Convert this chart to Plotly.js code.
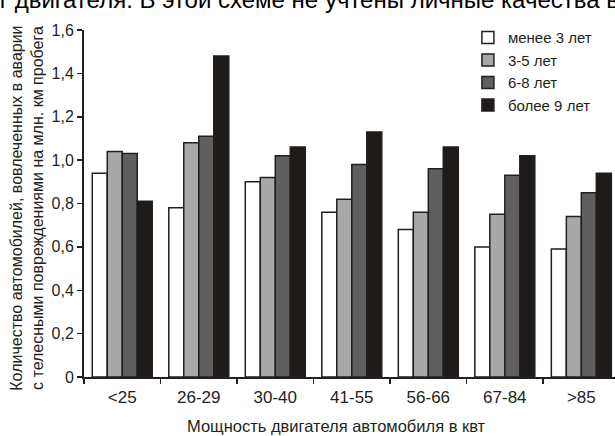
<!DOCTYPE html>
<html>
<head>
<meta charset="utf-8">
<script src="https://cdn.plot.ly/plotly-3.0.1.min.js"></script>
<style>html,body{margin:0;padding:0;background:#fff;}#chart{width:615px;height:436px;}</style>
</head>
<body>
<div id="chart"></div>
<script>
const categories = ['<25', '26-29', '30-40', '41-55', '56-66', '67-84', '>85'];
const seriesNames = ['менее 3 лет', '3-5 лет', '6-8 лет', 'более 9 лет'];
const under3 = [0.94, 0.78, 0.90, 0.76, 0.68, 0.60, 0.59];
const y3to5 = [1.04, 1.08, 0.92, 0.82, 0.76, 0.75, 0.74];
const y6to8 = [1.03, 1.11, 1.02, 0.98, 0.96, 0.93, 0.85];
const over9 = [0.81, 1.48, 1.06, 1.13, 1.06, 1.02, 0.94];
const yTickVals = [0, 0.2, 0.4, 0.6, 0.8, 1.0, 1.2, 1.4, 1.6];
const yTickText = ['0', '0,2', '0,4', '0,6', '0,8', '1,0', '1,2', '1,4', '1,6'];
const xTitle = 'Мощность двигателя автомобиля в квт';
const yTitle = 'Количество автомобилей, вовлеченных в аварии<br>с телесными повреждениями на млн. км пробега';
const topText = 'т двигателя. В этой схеме не учтены личные качества водителя';

const fills = ['#ffffff', '#a8a8a8', '#5f5f5f', '#1f1b19'];
const outline = '#231f20';
const FONT = '"Liberation Sans", Arial, sans-serif';
const allSeries = [under3, y3to5, y6to8, over9];

const traces = allSeries.map((vals, i) => ({
  type: 'bar',
  name: seriesNames[i],
  x: categories,
  y: vals,
  marker: {color: fills[i], line: {color: outline, width: 1.5}},
  hoverinfo: 'skip'
}));

const layout = {
  width: 615,
  height: 436,
  margin: {l: 84, r: 0, t: 30, b: 59},
  paper_bgcolor: '#ffffff',
  plot_bgcolor: '#ffffff',
  font: {family: FONT, size: 16, color: '#231f20'},
  barmode: 'group',
  bargap: 0.216,
  bargroupgap: 0,
  showlegend: true,
  legend: {
    x: 0.723, xanchor: 'left', y: 1.025, yanchor: 'top',
    font: {family: FONT, size: 15, color: '#231f20'},
    bgcolor: 'rgba(0,0,0,0)', borderwidth: 0,
    tracegroupgap: 0
  },
  xaxis: {
    type: 'category',
    range: [-0.5, 6.44],
    showline: true, linecolor: outline, linewidth: 2,
    ticks: 'outside', tickson: 'boundaries', ticklen: 5, tickwidth: 1.5, tickcolor: outline,
    ticklabelstandoff: 4,
    showgrid: false, zeroline: false,
    tickfont: {family: FONT, size: 17, color: '#231f20'},
    fixedrange: true
  },
  yaxis: {
    range: [0, 1.6],
    tickvals: yTickVals, ticktext: yTickText,
    showline: true, linecolor: outline, linewidth: 2,
    ticks: 'outside', ticklen: 5, tickwidth: 1.5, tickcolor: outline,
    showgrid: false, zeroline: false,
    tickfont: {family: FONT, size: 16, color: '#231f20'},
    fixedrange: true
  },
  annotations: [
    {
      text: yTitle, xref: 'paper', yref: 'paper', x: 0, y: 0.485,
      xanchor: 'center', yanchor: 'middle', xshift: -57, textangle: -90,
      showarrow: false, align: 'center',
      font: {family: FONT, size: 16, color: '#231f20'}
    },
    {
      text: xTitle, xref: 'paper', yref: 'paper', x: 0, y: 0,
      xanchor: 'center', yanchor: 'middle', xshift: 252, yshift: -49,
      showarrow: false,
      font: {family: FONT, size: 16.5, color: '#231f20'}
    },
    {
      text: topText, xref: 'paper', yref: 'paper', x: 0, y: 1,
      xanchor: 'left', yanchor: 'bottom', xshift: -89, yshift: 15,
      showarrow: false,
      font: {family: FONT, size: 24, color: '#000000'}
    }
  ]
};

Plotly.newPlot('chart', traces, layout, {staticPlot: true, displayModeBar: false});
</script>
</body>
</html>
